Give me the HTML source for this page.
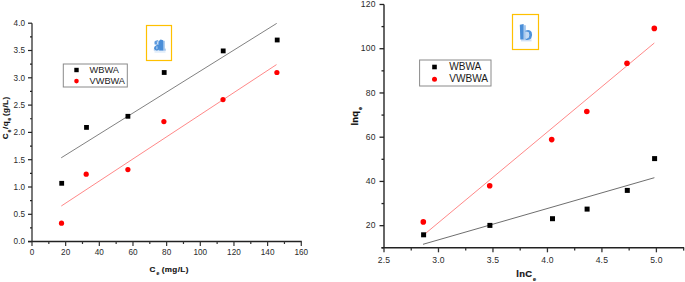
<!DOCTYPE html>
<html><head><meta charset="utf-8"><style>
html,body{margin:0;padding:0;background:#fff;}
body{width:685px;height:282px;overflow:hidden;}
svg{display:block;}
text{font-family:"Liberation Sans",sans-serif;}
.ta{font-size:8.2px;fill:#2a2a2a;}
.tb{font-size:8.6px;fill:#2a2a2a;letter-spacing:0.2px;}
.la{font-size:9.2px;fill:#1a1a1a;}
.lb{font-size:10.1px;fill:#1a1a1a;}
.tt{font-size:8.1px;font-weight:bold;fill:#111;letter-spacing:0.4px;stroke:#111;stroke-width:0.15px;}
.sub{font-size:5px;}
.tb2{font-size:9.4px;font-weight:bold;fill:#111;letter-spacing:0.25px;stroke:#111;stroke-width:0.2px;}
.sub2{font-size:5.4px;}
.big{font-family:"Liberation Serif",serif;font-weight:bold;font-size:25px;fill:url(#g);}
</style></head><body>
<svg width="685" height="282" viewBox="0 0 685 282">
<defs><linearGradient id="g" x1="0" y1="0" x2="1" y2="0">
<stop offset="0" stop-color="#3f86d6"/><stop offset="0.45" stop-color="#6aa6e2"/><stop offset="0.6" stop-color="#3b82d3"/><stop offset="1" stop-color="#8fbcea"/>
</linearGradient></defs>
<rect width="685" height="282" fill="#fff"/>
<line x1="32" y1="23.2" x2="32" y2="241.6" stroke="#787878" stroke-width="2"/>
<line x1="28" y1="241.5" x2="301.78" y2="241.5" stroke="#222" stroke-width="1.4"/>
<line x1="28" y1="241.6" x2="32" y2="241.6" stroke="#222" stroke-width="1.2"/>
<text x="25" y="244.4" class="ta" text-anchor="end">0.0</text>
<line x1="30" y1="227.95" x2="32" y2="227.95" stroke="#222" stroke-width="1.2"/>
<line x1="28" y1="214.3" x2="32" y2="214.3" stroke="#222" stroke-width="1.2"/>
<text x="25" y="217.1" class="ta" text-anchor="end">0.5</text>
<line x1="30" y1="200.65" x2="32" y2="200.65" stroke="#222" stroke-width="1.2"/>
<line x1="28" y1="187" x2="32" y2="187" stroke="#222" stroke-width="1.2"/>
<text x="25" y="189.8" class="ta" text-anchor="end">1.0</text>
<line x1="30" y1="173.35" x2="32" y2="173.35" stroke="#222" stroke-width="1.2"/>
<line x1="28" y1="159.7" x2="32" y2="159.7" stroke="#222" stroke-width="1.2"/>
<text x="25" y="162.5" class="ta" text-anchor="end">1.5</text>
<line x1="30" y1="146.05" x2="32" y2="146.05" stroke="#222" stroke-width="1.2"/>
<line x1="28" y1="132.4" x2="32" y2="132.4" stroke="#222" stroke-width="1.2"/>
<text x="25" y="135.2" class="ta" text-anchor="end">2.0</text>
<line x1="30" y1="118.75" x2="32" y2="118.75" stroke="#222" stroke-width="1.2"/>
<line x1="28" y1="105.1" x2="32" y2="105.1" stroke="#222" stroke-width="1.2"/>
<text x="25" y="107.9" class="ta" text-anchor="end">2.5</text>
<line x1="30" y1="91.45" x2="32" y2="91.45" stroke="#222" stroke-width="1.2"/>
<line x1="28" y1="77.8" x2="32" y2="77.8" stroke="#222" stroke-width="1.2"/>
<text x="25" y="80.6" class="ta" text-anchor="end">3.0</text>
<line x1="30" y1="64.15" x2="32" y2="64.15" stroke="#222" stroke-width="1.2"/>
<line x1="28" y1="50.5" x2="32" y2="50.5" stroke="#222" stroke-width="1.2"/>
<text x="25" y="53.3" class="ta" text-anchor="end">3.5</text>
<line x1="30" y1="36.85" x2="32" y2="36.85" stroke="#222" stroke-width="1.2"/>
<line x1="28" y1="23.2" x2="32" y2="23.2" stroke="#222" stroke-width="1.2"/>
<text x="25" y="26" class="ta" text-anchor="end">4.0</text>
<line x1="32" y1="241.5" x2="32" y2="246" stroke="#333" stroke-width="1.2"/>
<text x="32" y="254.6" class="ta" text-anchor="middle">0</text>
<line x1="48.83" y1="241.5" x2="48.83" y2="244" stroke="#333" stroke-width="1.2"/>
<line x1="65.66" y1="241.5" x2="65.66" y2="246" stroke="#333" stroke-width="1.2"/>
<text x="65.66" y="254.6" class="ta" text-anchor="middle">20</text>
<line x1="82.49" y1="241.5" x2="82.49" y2="244" stroke="#333" stroke-width="1.2"/>
<line x1="99.32" y1="241.5" x2="99.32" y2="246" stroke="#333" stroke-width="1.2"/>
<text x="99.32" y="254.6" class="ta" text-anchor="middle">40</text>
<line x1="116.15" y1="241.5" x2="116.15" y2="244" stroke="#333" stroke-width="1.2"/>
<line x1="132.98" y1="241.5" x2="132.98" y2="246" stroke="#333" stroke-width="1.2"/>
<text x="132.98" y="254.6" class="ta" text-anchor="middle">60</text>
<line x1="149.81" y1="241.5" x2="149.81" y2="244" stroke="#333" stroke-width="1.2"/>
<line x1="166.64" y1="241.5" x2="166.64" y2="246" stroke="#333" stroke-width="1.2"/>
<text x="166.64" y="254.6" class="ta" text-anchor="middle">80</text>
<line x1="183.47" y1="241.5" x2="183.47" y2="244" stroke="#333" stroke-width="1.2"/>
<line x1="200.3" y1="241.5" x2="200.3" y2="246" stroke="#333" stroke-width="1.2"/>
<text x="200.3" y="254.6" class="ta" text-anchor="middle">100</text>
<line x1="217.13" y1="241.5" x2="217.13" y2="244" stroke="#333" stroke-width="1.2"/>
<line x1="233.96" y1="241.5" x2="233.96" y2="246" stroke="#333" stroke-width="1.2"/>
<text x="233.96" y="254.6" class="ta" text-anchor="middle">120</text>
<line x1="250.79" y1="241.5" x2="250.79" y2="244" stroke="#333" stroke-width="1.2"/>
<line x1="267.62" y1="241.5" x2="267.62" y2="246" stroke="#333" stroke-width="1.2"/>
<text x="267.62" y="254.6" class="ta" text-anchor="middle">140</text>
<line x1="284.45" y1="241.5" x2="284.45" y2="244" stroke="#333" stroke-width="1.2"/>
<line x1="301.28" y1="241.5" x2="301.28" y2="246" stroke="#333" stroke-width="1.2"/>
<text x="301.28" y="254.6" class="ta" text-anchor="middle">160</text>
<line x1="61.2" y1="157.8" x2="276.7" y2="23.4" stroke="#7a7a7a" stroke-width="0.95"/>
<line x1="61.3" y1="206" x2="276.5" y2="64.6" stroke="#ff7a7a" stroke-width="0.9"/>
<rect x="59.3" y="180.9" width="4.8" height="4.8" fill="#000"/>
<rect x="84.1" y="125" width="4.8" height="4.8" fill="#000"/>
<rect x="125.5" y="113.9" width="4.8" height="4.8" fill="#000"/>
<rect x="161.8" y="70.1" width="4.8" height="4.8" fill="#000"/>
<rect x="220.8" y="48.5" width="4.8" height="4.8" fill="#000"/>
<rect x="274.8" y="37.6" width="4.8" height="4.8" fill="#000"/>
<circle cx="61.5" cy="223.2" r="2.6" fill="#f00"/>
<circle cx="86.2" cy="174.2" r="2.6" fill="#f00"/>
<circle cx="127.9" cy="169.6" r="2.6" fill="#f00"/>
<circle cx="163.9" cy="121.6" r="2.6" fill="#f00"/>
<circle cx="223" cy="99.6" r="2.6" fill="#f00"/>
<circle cx="276.9" cy="72.5" r="2.6" fill="#f00"/>
<rect x="63.3" y="64" width="64" height="23" fill="#fff" stroke="#8a8a8a" stroke-width="1"/>
<rect x="74.3" y="67.8" width="4.4" height="4.4" fill="#000"/>
<circle cx="76.5" cy="81.1" r="2.3" fill="#f00"/>
<text x="89.6" y="73.2" class="la">WBWA</text>
<text x="89.6" y="83.8" class="la">VWBWA</text>
<text x="149.6" y="271.8" class="tt">C<tspan dx="0.6" dy="3.3" class="sub">e</tspan><tspan dx="2.0" dy="-3.3">(mg/L)</tspan></text>
<text transform="translate(8.2 139.2) rotate(-90)" class="tt">C<tspan dx="0.5" dy="3.1" class="sub">e</tspan><tspan dx="0.3" dy="-3.1">/q</tspan><tspan dx="0.3" dy="3.1" class="sub">e</tspan><tspan dx="1.5" dy="-3.1">(g/L)</tspan></text>
<rect x="146.5" y="25.5" width="25" height="35" fill="#fff" stroke="#ffc000" stroke-width="1.2"/>
<g>
<rect x="153.8" y="48.6" width="12.2" height="2.2" fill="#b9d3f1"/>
<rect x="154.5" y="51" width="11" height="1.8" fill="#e3eefa"/>
<rect x="162.6" y="40.8" width="2.2" height="9.6" fill="#9fc4ec"/>
<path d="M158.6 41.2 L160.6 39.6 L163.2 40.3 L163.2 50.6 L159.2 50.6 Z" fill="#4a8ed8"/>
<path d="M154.4 41.8 Q155.6 39.8 158.2 40.2 L158.9 44.8 L154.6 44.6 Z" fill="#5c9ade"/>
<path d="M156.8 41.6 L157.8 41.3 L158 44 L157 44.2 Z" fill="#cfe1f6"/>
<path d="M159.3 44.6 L156.2 45.2 Q153.7 46.4 154 48.6 Q154.6 50.6 157 50.4 L159.3 49.6 Z" fill="#4b8fd9"/>
<path d="M156.4 46.4 L157.4 46.2 L157.4 49 L156.4 49.2 Z" fill="#bcd6f3"/>
</g>
<line x1="384" y1="4.48" x2="384" y2="248" stroke="#666" stroke-width="2"/>
<line x1="381.5" y1="247.8" x2="684.14" y2="247.8" stroke="#222" stroke-width="1.6"/>
<line x1="381.5" y1="247.8" x2="384" y2="247.8" stroke="#222" stroke-width="1.3"/>
<line x1="379.5" y1="225.68" x2="384" y2="225.68" stroke="#222" stroke-width="1.3"/>
<text x="375.8" y="228.28" class="tb" text-anchor="end">20</text>
<line x1="381.5" y1="203.56" x2="384" y2="203.56" stroke="#222" stroke-width="1.3"/>
<line x1="379.5" y1="181.44" x2="384" y2="181.44" stroke="#222" stroke-width="1.3"/>
<text x="375.8" y="184.04" class="tb" text-anchor="end">40</text>
<line x1="381.5" y1="159.32" x2="384" y2="159.32" stroke="#222" stroke-width="1.3"/>
<line x1="379.5" y1="137.2" x2="384" y2="137.2" stroke="#222" stroke-width="1.3"/>
<text x="375.8" y="139.8" class="tb" text-anchor="end">60</text>
<line x1="381.5" y1="115.08" x2="384" y2="115.08" stroke="#222" stroke-width="1.3"/>
<line x1="379.5" y1="92.96" x2="384" y2="92.96" stroke="#222" stroke-width="1.3"/>
<text x="375.8" y="95.56" class="tb" text-anchor="end">80</text>
<line x1="381.5" y1="70.84" x2="384" y2="70.84" stroke="#222" stroke-width="1.3"/>
<line x1="379.5" y1="48.72" x2="384" y2="48.72" stroke="#222" stroke-width="1.3"/>
<text x="375.8" y="51.32" class="tb" text-anchor="end">100</text>
<line x1="381.5" y1="26.6" x2="384" y2="26.6" stroke="#222" stroke-width="1.3"/>
<line x1="379.5" y1="4.48" x2="384" y2="4.48" stroke="#222" stroke-width="1.3"/>
<text x="375.8" y="7.08" class="tb" text-anchor="end">120</text>
<line x1="384" y1="247.8" x2="384" y2="252.3" stroke="#333" stroke-width="1.3"/>
<text x="384" y="262.8" class="tb" text-anchor="middle">2.5</text>
<line x1="411.24" y1="247.8" x2="411.24" y2="250.6" stroke="#333" stroke-width="1.3"/>
<line x1="438.48" y1="247.8" x2="438.48" y2="252.3" stroke="#333" stroke-width="1.3"/>
<text x="438.48" y="262.8" class="tb" text-anchor="middle">3.0</text>
<line x1="465.72" y1="247.8" x2="465.72" y2="250.6" stroke="#333" stroke-width="1.3"/>
<line x1="492.96" y1="247.8" x2="492.96" y2="252.3" stroke="#333" stroke-width="1.3"/>
<text x="492.96" y="262.8" class="tb" text-anchor="middle">3.5</text>
<line x1="520.2" y1="247.8" x2="520.2" y2="250.6" stroke="#333" stroke-width="1.3"/>
<line x1="547.44" y1="247.8" x2="547.44" y2="252.3" stroke="#333" stroke-width="1.3"/>
<text x="547.44" y="262.8" class="tb" text-anchor="middle">4.0</text>
<line x1="574.68" y1="247.8" x2="574.68" y2="250.6" stroke="#333" stroke-width="1.3"/>
<line x1="601.92" y1="247.8" x2="601.92" y2="252.3" stroke="#333" stroke-width="1.3"/>
<text x="601.92" y="262.8" class="tb" text-anchor="middle">4.5</text>
<line x1="629.16" y1="247.8" x2="629.16" y2="250.6" stroke="#333" stroke-width="1.3"/>
<line x1="656.4" y1="247.8" x2="656.4" y2="252.3" stroke="#333" stroke-width="1.3"/>
<text x="656.4" y="262.8" class="tb" text-anchor="middle">5.0</text>
<line x1="683.64" y1="247.8" x2="683.64" y2="250.6" stroke="#333" stroke-width="1.3"/>
<line x1="423" y1="244.3" x2="654.4" y2="177.7" stroke="#666" stroke-width="0.95"/>
<line x1="423.5" y1="235.1" x2="654.3" y2="43" stroke="#ff7a7a" stroke-width="0.9"/>
<rect x="421.1" y="232.3" width="5" height="5" fill="#000"/>
<rect x="487.4" y="222.9" width="5" height="5" fill="#000"/>
<rect x="550" y="216.2" width="5" height="5" fill="#000"/>
<rect x="584.6" y="206.6" width="5" height="5" fill="#000"/>
<rect x="624.8" y="187.9" width="5" height="5" fill="#000"/>
<rect x="652.1" y="156.1" width="5" height="5" fill="#000"/>
<circle cx="423.3" cy="221.9" r="2.8" fill="#f00"/>
<circle cx="489.7" cy="185.8" r="2.8" fill="#f00"/>
<circle cx="551.7" cy="139.6" r="2.8" fill="#f00"/>
<circle cx="586.8" cy="111.5" r="2.8" fill="#f00"/>
<circle cx="627" cy="63.3" r="2.8" fill="#f00"/>
<circle cx="654.3" cy="28.4" r="2.8" fill="#f00"/>
<rect x="419.6" y="60" width="71.4" height="26" fill="#fff" stroke="#8a8a8a" stroke-width="1"/>
<rect x="432.2" y="64.7" width="4.6" height="4.6" fill="#000"/>
<circle cx="434.5" cy="79.3" r="2.5" fill="#f00"/>
<text x="449.2" y="70.3" class="lb">WBWA</text>
<text x="449.2" y="82.3" class="lb">VWBWA</text>
<text x="516.3" y="276.6" class="tb2">lnC<tspan dx="0.9" dy="4.2" class="sub2">e</tspan></text>
<text transform="translate(358.4 125.6) rotate(-90)" class="tb2">lnq<tspan dx="0.9" dy="3.4" class="sub2">e</tspan></text>
<rect x="512.5" y="14.5" width="26" height="35" fill="#fff" stroke="#ffc000" stroke-width="1.2"/>
<g>
<rect x="521" y="39.2" width="10.5" height="2.2" fill="#cfe0f5"/>
<rect x="523.5" y="25.2" width="2.4" height="14.6" fill="#a6c8ee"/>
<path d="M519.8 24.8 L523.6 24 L523.6 39.6 L520.3 39.6 Z" fill="#4a8ed8"/>
<path d="M525.6 30.6 Q529.5 29 531.6 32 Q533 35.5 531.2 38.6 Q529 40.6 525.6 39.8 L525.6 38.4 Q528 38.8 528.8 37 Q529.6 34.8 528.6 32.6 Q527.6 31.4 525.6 32 Z" fill="#4f92da"/>
<path d="M525.8 32 Q527.6 31.4 528.6 32.6 Q529.6 34.8 528.8 37 Q528 38.8 525.8 38.4 Z" fill="#c3daf3"/>
</g>
</svg>
</body></html>
